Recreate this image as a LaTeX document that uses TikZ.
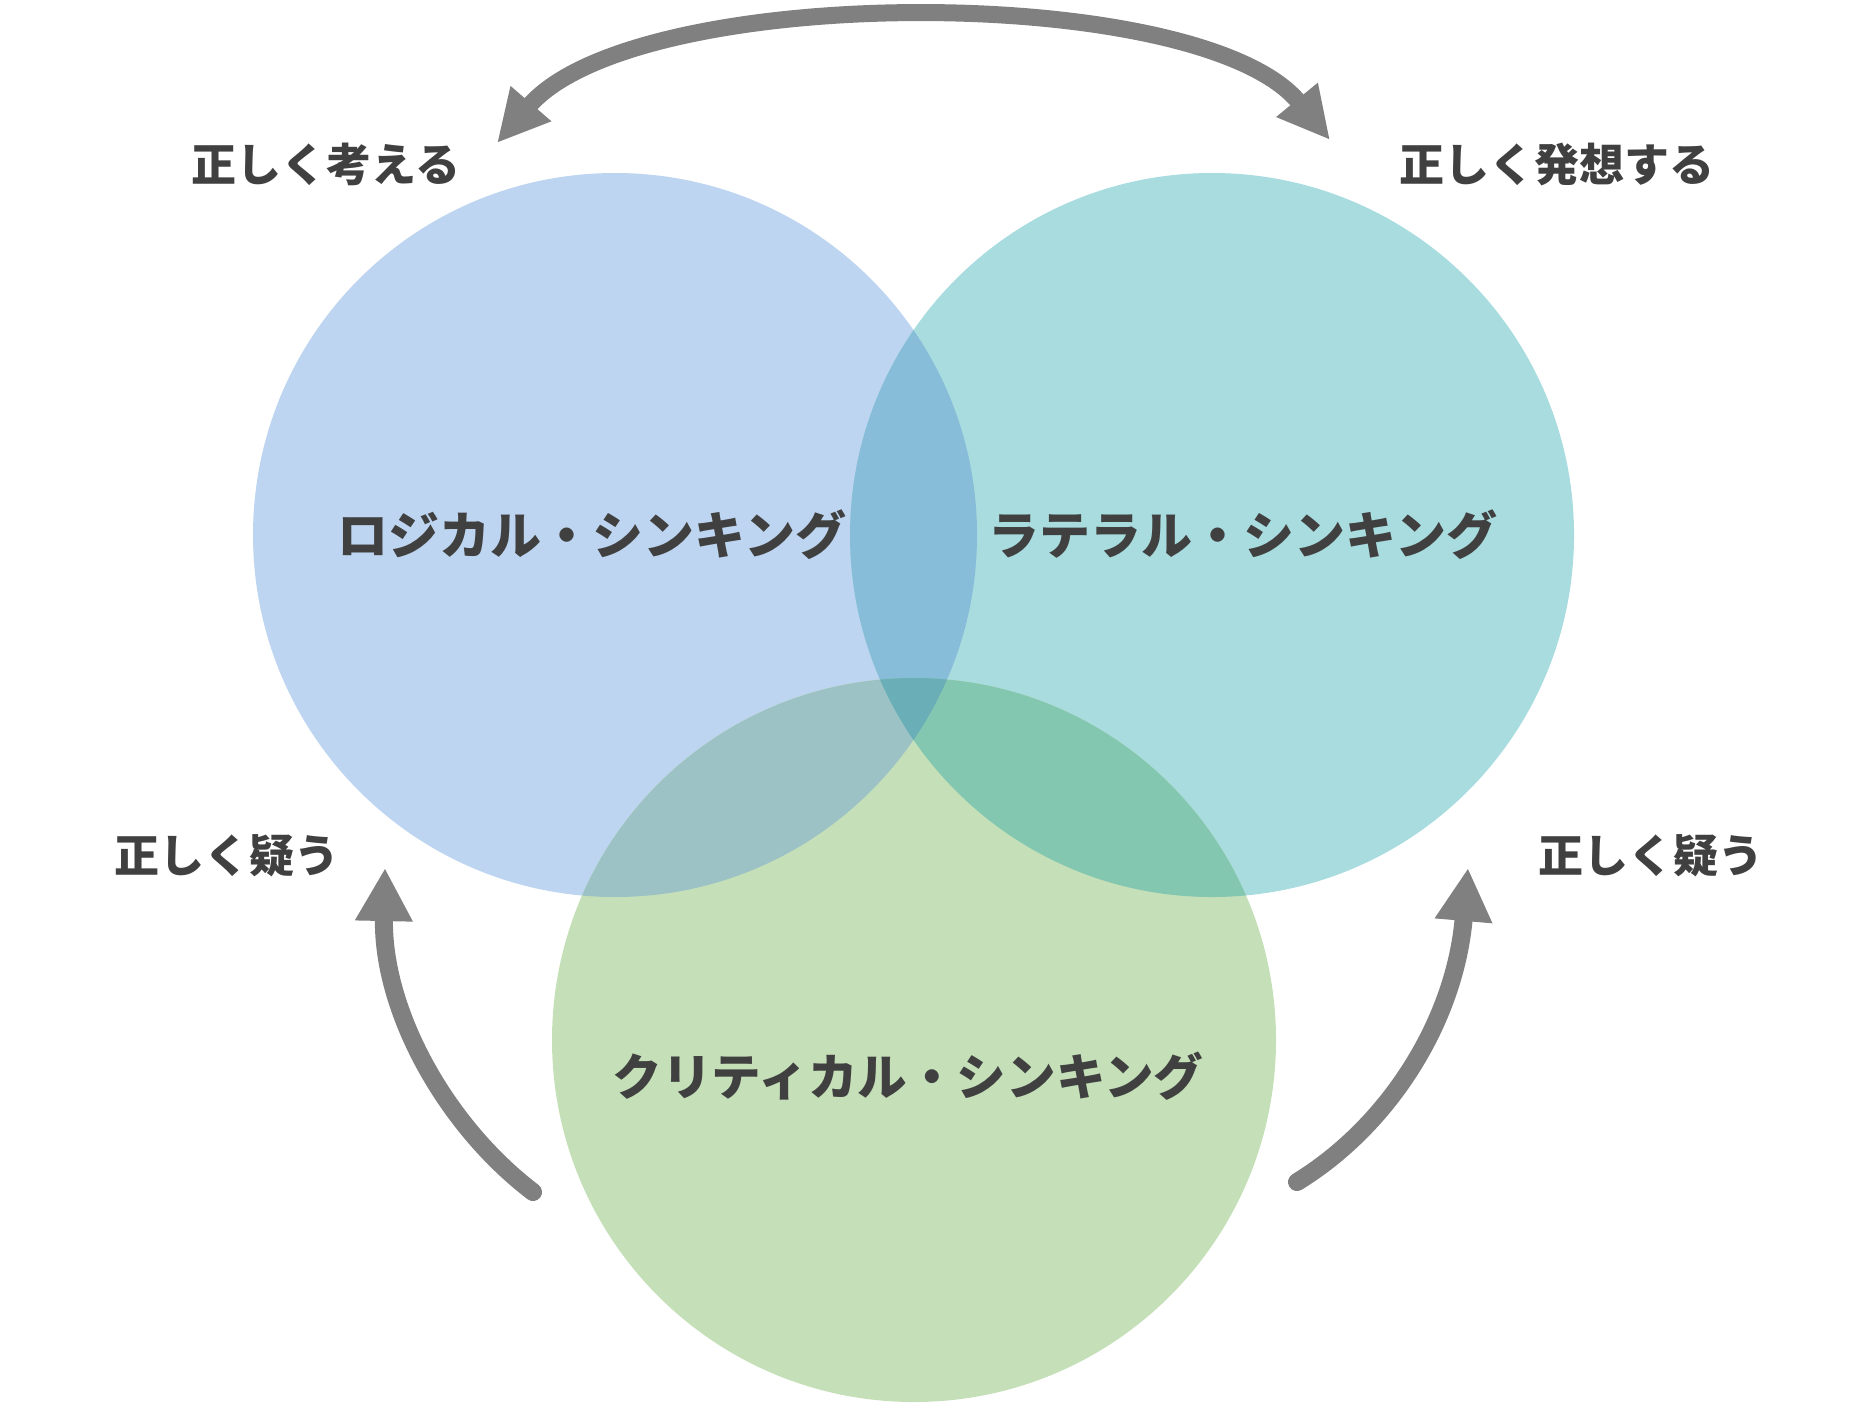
\documentclass[tikz,border=0pt]{standalone}
\usepackage{fontspec}
\newfontfamily\jpfont{Noto Sans CJK JP}
\usetikzlibrary{arrows.meta}
\definecolor{logicblue}{HTML}{BDD5F0}
\definecolor{lateralteal}{HTML}{A8DCDF}
\definecolor{criticalgreen}{HTML}{C5E0B8}
\definecolor{lrmix}{HTML}{87BDD9}
\definecolor{lbmix}{HTML}{9CC2C5}
\definecolor{rbmix}{HTML}{84C7B1}
\definecolor{allmix}{HTML}{6AAEB8}
\definecolor{textgray}{HTML}{404040}
\definecolor{arrowgray}{HTML}{808080}

\begin{document}
\begin{tikzpicture}[
  x=0.01cm, y=-0.01cm,
  sidetext/.style={font=\jpfont\bfseries\fontsize{12.8}{15}\selectfont, text=textgray},
  circtext/.style={font=\jpfont\bfseries\fontsize{14.5}{17}\selectfont, text=textgray},
  arr/.style={-{Triangle[length=0.53cm, width=0.54cm]}, line width=0.18cm, draw=arrowgray, line cap=round},
  dblarr/.style={{Triangle[length=0.52cm, width=0.5cm]}-{Triangle[length=0.52cm, width=0.5cm]}, line width=0.17cm, draw=arrowgray}
]
  \useasboundingbox (0,0) rectangle (1874,1403);

  % Circles
  \coordinate (lc) at (615,535);
  \coordinate (rc) at (1212,535);
  \coordinate (bc) at (914,1040);

  \fill[logicblue] (lc) circle (362);
  \fill[lateralteal] (rc) circle (362);
  \fill[criticalgreen] (bc) circle (362);

  % Overlaps
  \begin{scope}
    \clip (lc) circle (362);
    \fill[lrmix] (rc) circle (362);
    \fill[lbmix] (bc) circle (362);
  \end{scope}
  \begin{scope}
    \clip (rc) circle (362);
    \fill[rbmix] (bc) circle (362);
  \end{scope}
  \begin{scope}
    \clip (lc) circle (362);
    \clip (rc) circle (362);
    \fill[allmix] (bc) circle (362);
  \end{scope}

  % Circle labels
  \node[circtext] (logic) at (592,535) {ロジカル・シンキング};
  \node[circtext] (lateral) at (1243,535) {ラテラル・シンキング};
  \node[circtext, font=\jpfont\bfseries\fontsize{14.1}{17}\selectfont] (critical) at (908,1076) {クリティカル・シンキング};

  % Side labels
  \node[sidetext] (think) at (326,164) {正しく考える};
  \node[sidetext] (idea) at (1557,164) {正しく発想する};
  \node[sidetext] (doubtl) at (227,856) {正しく疑う};
  \node[sidetext] (doubtr) at (1651,856) {正しく疑う};

  % Arrows
  \coordinate (tl) at (497,143);
  \coordinate (tr) at (1330,140);
  \draw[dblarr] (tl) .. controls (636,-18) and (1200,-18) .. (tr);

  \coordinate (ls) at (533,1192);
  \coordinate (le) at (385,868);
  \draw[arr] (ls) .. controls (445,1125) and (382,1010) .. (le);

  \coordinate (rs) at (1297,1182);
  \coordinate (re) at (1468,868);
  \draw[arr] (rs) .. controls (1390,1125) and (1455,1020) .. (re);

\end{tikzpicture}
\end{document}
